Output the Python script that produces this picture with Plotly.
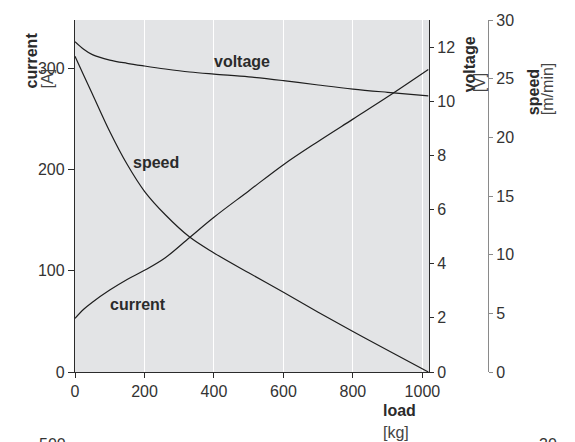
import plotly.graph_objects as go

# ---- data ----
load_kg = [0, 25, 50, 100, 150, 200, 260, 330, 400, 500, 600, 700, 800, 900, 1017]
current_A = [53, 62, 69, 81, 91.5, 100.5, 113, 133, 153, 179, 205, 228, 250, 272, 299]
voltage_V = [12.2, 11.92, 11.72, 11.52, 11.40, 11.30, 11.19, 11.08, 11.0, 10.9, 10.76, 10.6, 10.45, 10.33, 10.2]
speed_mmin = [26.9, 25.3, 23.7, 20.5, 17.7, 15.4, 13.4, 11.5, 10.15, 8.45, 6.8, 5.1, 3.45, 1.85, 0.0]

x_ticks = [0, 200, 400, 600, 800, 1000]
current_ticks = [0, 100, 200, 300]
voltage_ticks = [0, 2, 4, 6, 8, 10, 12]
speed_ticks = [0, 5, 10, 15, 20, 25, 30]

W, H = 575, 442
L, R, T, B = 75, 75, 17, 70
PW = W - L - R
PH = H - T - B
FONT = "Liberation Sans, Arial, sans-serif"
DARK = "#2b2b2b"


def px(x):
    return (x - L) / PW


def py(y):
    return (H - B - y) / PH


line_style = dict(color="#1e1e1e", width=1.2, shape="spline", smoothing=1.0)

fig = go.Figure()
fig.add_trace(go.Scatter(x=load_kg, y=current_A, mode="lines", line=line_style,
                         yaxis="y", showlegend=False, name="current"))
fig.add_trace(go.Scatter(x=load_kg, y=voltage_V, mode="lines", line=line_style,
                         yaxis="y2", showlegend=False, name="voltage"))
fig.add_trace(go.Scatter(x=load_kg, y=speed_mmin, mode="lines", line=line_style,
                         yaxis="y3", showlegend=False, name="speed"))

tickfont = dict(family=FONT, size=16, color="#333333")

fig.update_layout(
    width=W, height=H,
    margin=dict(l=L, r=R, t=T, b=B, pad=0),
    paper_bgcolor="white",
    plot_bgcolor="#e3e4e6",
    font=dict(family=FONT, size=16, color="#333333"),
    xaxis=dict(domain=[0, px(429)], range=[0, 1019], tickvals=x_ticks,
               showgrid=True, gridcolor="white", gridwidth=1,
               zeroline=False, showline=True, linecolor=DARK, linewidth=1.3,
               ticks="outside", ticklen=5, tickcolor=DARK, tickfont=tickfont),
    yaxis=dict(range=[0, 348], tickvals=current_ticks, showgrid=False, zeroline=False,
               showline=True, linecolor=DARK, linewidth=1.3,
               ticks="outside", ticklen=6, tickcolor=DARK, tickfont=tickfont),
    yaxis2=dict(range=[0, 13], tickvals=voltage_ticks, overlaying="y", side="right",
                anchor="x", showgrid=False, zeroline=False,
                showline=True, linecolor=DARK, linewidth=1.3,
                ticks="outside", ticklen=4, tickcolor=DARK, tickfont=tickfont),
    yaxis3=dict(range=[0, 30], tickvals=speed_ticks, overlaying="y", side="right",
                anchor="free", position=px(488), showgrid=False, zeroline=False,
                showline=True, linecolor="#8a8a8a", linewidth=1.3,
                ticks="outside", ticklen=4, tickcolor="#8a8a8a", tickfont=tickfont),
)

ann = []


def add(text, x, y, bold=False, size=16, angle=0, xa="center", ya="middle", color="#2b2b2b"):
    ann.append(dict(text=("<b>%s</b>" % text) if bold else text,
                    x=px(x), y=py(y), xref="paper", yref="paper",
                    showarrow=False, textangle=angle, xanchor=xa, yanchor=ya,
                    font=dict(family=FONT, size=size, color=color)))


# axis titles
add("current", 31, 88, bold=True, angle=-90, ya="bottom")
add("[A]", 47, 88, angle=-90, ya="bottom", color="#444444")
add("voltage", 469, 92, bold=True, angle=-90, ya="bottom")
add("[V]", 479, 92, angle=-90, ya="bottom", color="#444444")
add("speed", 533, 115, bold=True, angle=-90, ya="bottom")
add("[m/min]", 547, 115, angle=-90, ya="bottom", color="#444444")
add("load", 381, 411, bold=True, xa="left")
add("[kg]", 381, 433, xa="left", color="#444444")

# in-plot curve labels
add("voltage", 242, 59, bold=True, size=16)
add("speed", 156, 161, bold=True, size=16)
add("current", 138, 304, bold=True, size=16)

# partially visible labels of the next chart below (cut off in the reference too)
add("500", 52, 445, color="#333333")
add("30", 548, 445, color="#333333")

fig.update_layout(annotations=ann)

fig.write_html("out.html", config={"displayModeBar": False},
               post_script="document.body.style.margin='0';document.body.style.padding='0';")
